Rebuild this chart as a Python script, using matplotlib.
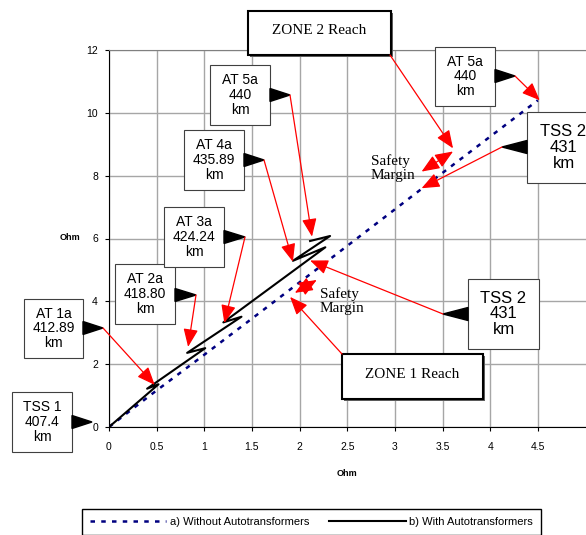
import matplotlib.pyplot as plt
from matplotlib.patches import Rectangle, Polygon

plt.rcParams['font.family'] = ['Liberation Sans', 'DejaVu Sans']

# impedance seen from TSS 1 [Ohm]
x_without = [0, 0.45, 1.0, 1.5, 2.3, 3.28, 4.5]
y_without = [0, 1.05, 2.3, 3.45, 5.3, 7.58, 10.4]
x_with = [0, 0.52, 0.40, 1.01, 0.82, 1.39, 1.20, 2.27, 1.93, 2.32, 2.11]
y_with = [0, 1.36, 1.22, 2.51, 2.36, 3.51, 3.33, 5.72, 5.29, 6.08, 5.92]

x_ticks = [0, 0.5, 1, 1.5, 2, 2.5, 3, 3.5, 4, 4.5]
x_ticklabels = ["0", "0.5", "1", "1.5", "2", "2.5", "3", "3.5", "4", "4.5"]
y_ticks = [0, 2, 4, 6, 8, 10, 12]

series_labels = ["a) Without Autotransformers", "b) With Autotransformers"]

station_labels = ["TSS 1\n407.4\nkm", "AT 1a\n412.89\nkm", "AT 2a\n418.80\nkm",
                  "AT 3a\n424.24\nkm", "AT 4a\n435.89\nkm", "AT 5a\n440\nkm",
                  "AT 5a\n440\nkm", "TSS 2\n431\nkm", "TSS 2\n431\nkm"]
station_targets = [None, (0.48, 1.34), (0.83, 2.55), (1.21, 3.31), (1.93, 5.26),
                   (2.13, 6.06), (4.52, 10.4), (3.28, 7.60), (2.11, 5.30)]

zone_labels = ["ZONE 2 Reach", "ZONE 1 Reach"]
zone_targets = [(3.61, 8.87), (1.90, 4.14)]

margin_ends = [((3.28, 8.13), (3.61, 8.77)), ((1.95, 4.27), (2.18, 4.68))]

# layout in figure pixels (x0, y0, x1, y1, font size, triangle base x, triangle tip x, y)
station_boxes = [
    (12, 392, 72, 452, 10, 72, 92, 422),
    (24, 299, 83, 358, 10, 83, 103, 328),
    (115, 264, 175, 324, 10, 175, 196, 295),
    (164, 207, 224, 267, 10, 224, 245, 237),
    (184, 130, 244, 190, 10, 244, 264, 160),
    (210, 65, 270, 125, 10, 270, 290, 95),
    (435, 47, 495, 106, 10, 495, 515, 76),
    (527, 112, 600, 183, 12, 527, 502, 147),
    (468, 279, 539, 349, 12, 468, 443, 314),
]
zone_boxes = [(248, 11, 391, 55, (390, 55)), (342, 354, 483, 399, (342, 354))]
margin_text_pos = [(371, 168), (320, 301)]

fig = plt.figure(figsize=(5.86, 5.35), dpi=100)
ax = fig.add_axes([109 / 586, 108 / 535, 476.5 / 586, 377 / 535])
ax.plot(x_without, y_without, color="#000080", lw=1.8, linestyle=(0, (1.8, 2.5)),
        label=series_labels[0], zorder=3)
ax.plot(x_with, y_with, color="black", lw=1.5, label=series_labels[1], zorder=4)

ax.set_xlim(0, 5)
ax.set_ylim(0, 12)
ax.set_xticks(x_ticks)
ax.set_xticklabels(x_ticklabels)
ax.set_yticks(y_ticks)
ax.grid(color="#a6a6a6", lw=1)
ax.set_axisbelow(True)
ax.spines["right"].set_visible(False)
ax.spines["top"].set_color("#808080")
ax.tick_params(axis="x", direction="out", length=3, labelsize=7.5, pad=8)
ax.tick_params(axis="y", direction="out", length=3, labelsize=7.5, pad=5)

fig.text(70 / 586, 1 - 237 / 535, "Ohm", fontsize=6.5, fontweight="bold",
         ha="center", va="center")
fig.text(347 / 586, 1 - 473 / 535, "Ohm", fontsize=6.5, fontweight="bold",
         ha="center", va="center")

ax.legend(loc="upper left", bbox_to_anchor=(82 / 586, 1 - 509 / 535),
          bbox_transform=fig.transFigure, ncol=2, fontsize=8, frameon=True,
          fancybox=False, edgecolor="black", framealpha=1, handlelength=6.9,
          handletextpad=0.3, columnspacing=1.8, borderpad=0.7, borderaxespad=0)

# overlay in pixel coordinates for the callouts
ov = fig.add_axes([0, 0, 1, 1])
ov.set_xlim(0, 586)
ov.set_ylim(535, 0)
ov.axis("off")
ov.set_zorder(5)

red_arrow = dict(arrowstyle="-|>,head_length=1.1,head_width=0.45", color="red",
                 lw=0.9, shrinkA=0, shrinkB=0, mutation_scale=10)
red_double = dict(arrowstyle="<|-|>,head_length=1.1,head_width=0.45", color="red",
                  lw=0.9, shrinkA=0, shrinkB=0, mutation_scale=10)

for label, target, box in zip(station_labels, station_targets, station_boxes):
    x0, y0, x1, y1, fs, bx, tx, ty = box
    ov.add_patch(Rectangle((x0 + 1, y0 + 1), x1 - x0, y1 - y0, facecolor="#7f7f7f",
                           edgecolor="none"))
    ov.add_patch(Rectangle((x0, y0), x1 - x0, y1 - y0, facecolor="white",
                           edgecolor="#404040", lw=0.8))
    ov.text((x0 + x1) / 2, (y0 + y1) / 2, label, fontsize=fs, ha="center",
            va="center", linespacing=1.05)
    ov.add_patch(Polygon([(bx, ty - 6.5), (bx, ty + 6.5), (tx, ty)], color="black"))
    if target is not None:
        ov.annotate("", xy=target, xycoords=ax.transData, xytext=(tx, ty),
                    textcoords=ov.transData, arrowprops=red_arrow)

for label, target, box in zip(zone_labels, zone_targets, zone_boxes):
    x0, y0, x1, y1, start = box
    ov.add_patch(Rectangle((x0 + 2, y0 + 2), x1 - x0, y1 - y0, facecolor="#606060",
                           edgecolor="none"))
    ov.add_patch(Rectangle((x0, y0), x1 - x0, y1 - y0, facecolor="white",
                           edgecolor="black", lw=1.5))
    ov.text((x0 + x1) / 2, (y0 + y1) / 2 - 2, label, fontsize=11, ha="center",
            va="center", family="Liberation Serif")
    ov.annotate("", xy=target, xycoords=ax.transData, xytext=start,
                textcoords=ov.transData, arrowprops=red_arrow)

for ends, pos in zip(margin_ends, margin_text_pos):
    ov.annotate("", xy=ends[1], xycoords=ax.transData, xytext=ends[0],
                textcoords=ax.transData, arrowprops=red_double)
    ov.text(pos[0], pos[1], "Safety\nMargin", fontsize=11, ha="left", va="center",
            family="Liberation Serif", linespacing=1.1)

fig.savefig("out.png", dpi=100)
